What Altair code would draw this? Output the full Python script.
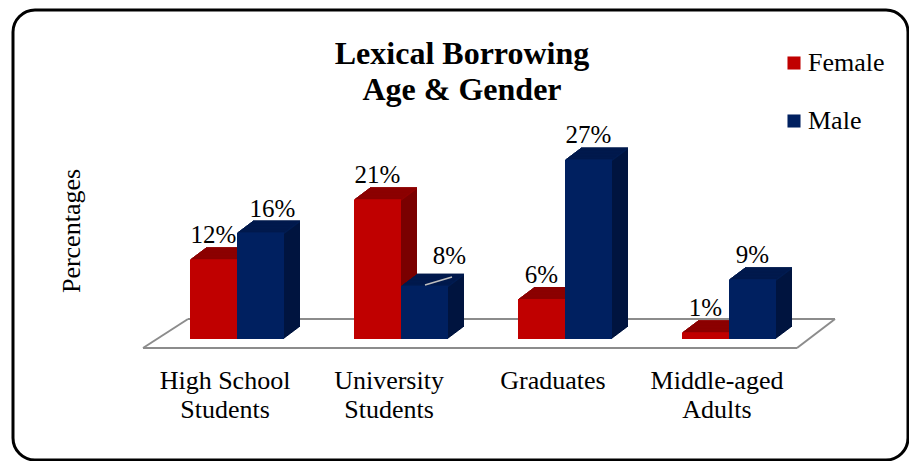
import altair as alt
import pandas as pd

categories = ["High School\nStudents", "University\nStudents", "Graduates", "Middle-aged\nAdults"]
genders = ["Female", "Male"]
female_values = [12, 21, 6, 1]
male_values = [16, 8, 27, 9]

front_colors = ["#C00000", "#002060"]
side_colors = {"Female": "#7A0000", "Male": "#00143F"}
top_colors = {"Female": "#900000", "Male": "#001B50"}

rows = []
for i, (c, f, m) in enumerate(zip(categories, female_values, male_values)):
    rows.append({"cat": c, "idx": i, "gender": "Female", "value": f, "label": f"{f}%"})
    rows.append({"cat": c, "idx": i, "gender": "Male", "value": m, "label": f"{m}%"})
df = pd.DataFrame(rows)

FONT = "Liberation Serif"
BAR = 0.2866  # bar width as a fraction of a category slot

xs = alt.Scale(domain=[0, 4], range=[155, 811], nice=False, zero=False)
ys = alt.Scale(domain=[0, 30], range=[339, 139.5])

base = alt.Chart(df).transform_calculate(
    x0=f"datum.idx + 0.5 + (datum.gender == 'Female' ? -{BAR} : 0)",
    x1=f"datum.idx + 0.5 + (datum.gender == 'Female' ? 0 : {BAR})",
    xc=f"datum.idx + 0.5 + (datum.gender == 'Female' ? -{BAR / 2} : {BAR / 2})",
)

X0 = alt.X("x0:Q", scale=xs, axis=None)
X1 = alt.X2("x1:Q")
XC = alt.X("xc:Q", scale=xs, axis=None)
Y = alt.Y("value:Q", scale=ys, axis=None)

side_col = alt.condition(alt.datum.gender == "Female", alt.value(side_colors["Female"]), alt.value(side_colors["Male"]))
top_col = alt.condition(alt.datum.gender == "Female", alt.value(top_colors["Female"]), alt.value(top_colors["Male"]))

layers = []

# border
one = alt.Chart(pd.DataFrame({"a": [0]}))
layers.append(
    one.mark_rect(filled=False, stroke="black", strokeWidth=3, cornerRadius=22).encode(
        x=alt.value(13), x2=alt.value(908), y=alt.value(10), y2=alt.value(460)
    )
)

# floor
floor_style = dict(color="#8C8C8C", strokeWidth=2)
layers += [
    one.mark_rule(**floor_style).encode(x=alt.value(143), x2=alt.value(797), y=alt.value(348), y2=alt.value(348)),
    one.mark_rule(**floor_style).encode(x=alt.value(188), x2=alt.value(835), y=alt.value(319), y2=alt.value(319)),
    one.mark_rule(**floor_style).encode(x=alt.value(143), x2=alt.value(188), y=alt.value(348), y2=alt.value(319)),
    one.mark_rule(**floor_style).encode(x=alt.value(797), x2=alt.value(835), y=alt.value(348), y2=alt.value(319)),
]

DEPTH = 16
for k in range(DEPTH, 0, -1):
    dy = -0.75 * k
    layers.append(
        base.mark_bar(xOffset=k, x2Offset=k, yOffset=dy, y2Offset=dy).encode(
            x=X0, x2=X1, y=Y, y2=alt.datum(0), color=side_col
        )
    )
    layers.append(
        base.mark_bar(xOffset=k, x2Offset=k, yOffset=dy, y2Offset=dy + 2).encode(
            x=X0, x2=X1, y=Y, y2=alt.Y2("value:Q"), color=top_col
        )
    )

front = base.mark_bar().encode(
    x=X0, x2=X1, y=Y, y2=alt.datum(0),
    color=alt.Color(
        "gender:N",
        scale=alt.Scale(domain=genders, range=front_colors),
        legend=alt.Legend(
            title=None, orient="none", legendX=781, legendY=50,
            symbolType="square", symbolSize=170, symbolStrokeWidth=0,
            labelFont=FONT, labelFontSize=26, labelColor="black",
            labelOffset=1, rowPadding=32, padding=0,
        ),
    ),
)
layers.append(front)

txt = dict(font=FONT, fontSize=25, color="black", baseline="alphabetic", align="center")
is_16 = (alt.datum.idx == 0) & (alt.datum.gender == "Male")
is_8 = (alt.datum.idx == 1) & (alt.datum.gender == "Male")
layers.append(
    base.transform_filter(~(is_16 | is_8)).mark_text(dy=-16, **txt).encode(x=XC, y=Y, text="label:N")
)
layers.append(
    base.transform_filter(is_16).mark_text(dy=-16, dx=12, **txt).encode(x=XC, y=Y, text="label:N")
)
layers.append(
    base.transform_filter(is_8).mark_text(dy=-22, dx=25, **txt).encode(x=XC, y=Y, text="label:N")
)
# leader line for the 8% label
layers.append(
    one.mark_rule(color="#BFBFBF", strokeWidth=1.5).encode(
        x=alt.value(425), x2=alt.value(452), y=alt.value(285), y2=alt.value(277)
    )
)

# category labels
cat_df = pd.DataFrame({"cat": categories, "idx": list(range(len(categories)))})
layers.append(
    alt.Chart(cat_df).transform_calculate(xm="datum.idx + 0.5").mark_text(
        dx=-12, lineBreak="\n", lineHeight=29, font=FONT, fontSize=26, color="black",
        baseline="alphabetic", align="center",
    ).encode(x=alt.X("xm:Q", scale=xs, axis=None), y=alt.value(389), text="cat:N")
)

# title
title_df = pd.DataFrame({"t": ["Lexical Borrowing\nAge & Gender"]})
layers.append(
    alt.Chart(title_df).mark_text(
        font=FONT, fontSize=32, fontWeight="bold", color="black", align="center",
        baseline="alphabetic", lineBreak="\n", lineHeight=36,
    ).encode(x=alt.value(462), y=alt.value(64), text="t:N")
)

# y title
yt_df = pd.DataFrame({"t": ["Percentages"]})
layers.append(
    alt.Chart(yt_df).mark_text(
        font=FONT, fontSize=26, color="black", align="center", baseline="middle", angle=270
    ).encode(x=alt.value(72), y=alt.value(231), text="t:N")
)

chart = alt.layer(*layers).properties(
    width=909, height=461, autosize=alt.AutoSizeParams(type="none"), padding=0, background="white"
).configure_view(stroke=None)

chart.save("out.html", embed_options={"renderer": "svg", "actions": False})
